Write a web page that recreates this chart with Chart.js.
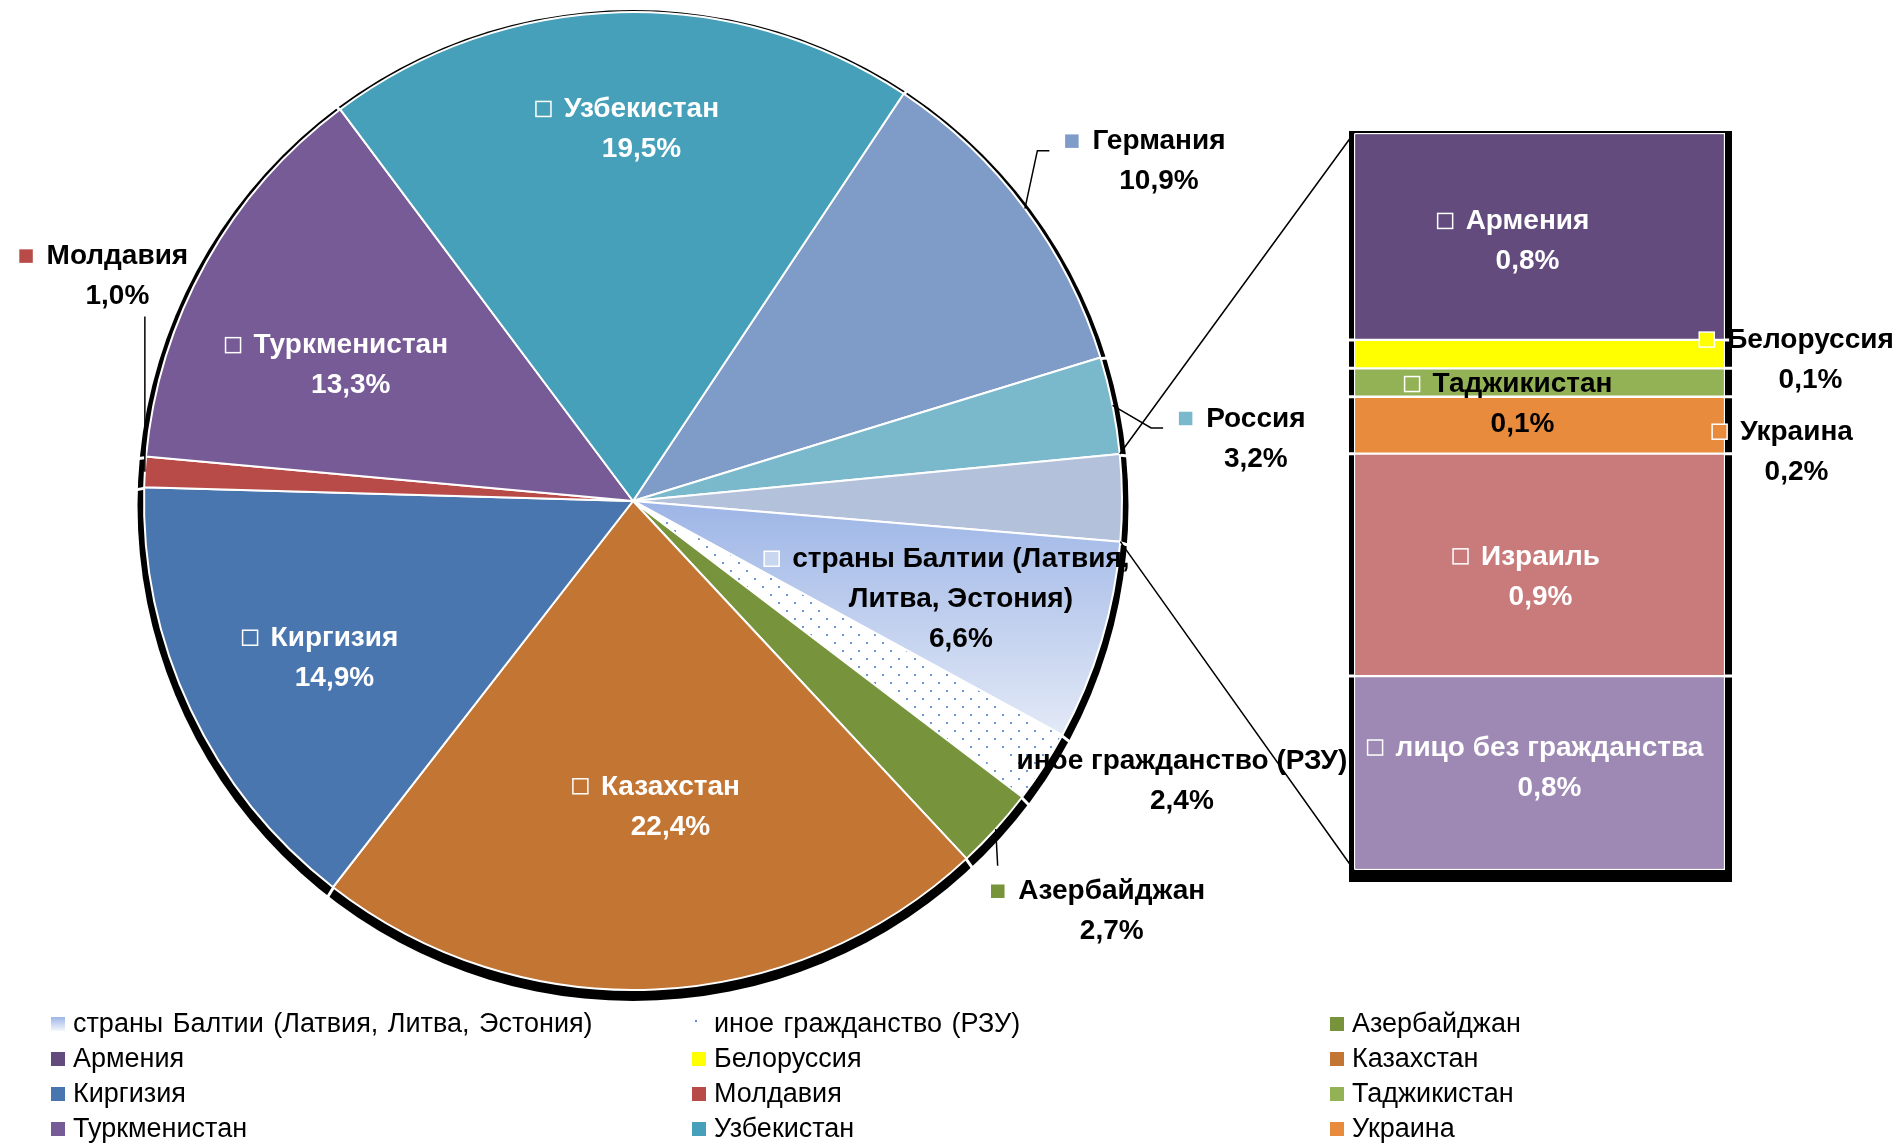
<!DOCTYPE html>
<html>
<head>
<meta charset="utf-8">
<script src="https://cdn.jsdelivr.net/npm/chart.js@4.4.1/dist/chart.umd.min.js"></script>
<style>
  body { margin: 0; background: #fff; width: 1896px; height: 1143px; overflow: hidden; position: relative; font-family: "Liberation Sans", Arial, sans-serif; }
  canvas { position: absolute; left: 0; top: 0; }
  .item { position: absolute; font-size: 27px; line-height: 30px; color: #000; white-space: nowrap; word-spacing: 2px; }
  .key { position: absolute; width: 14px; height: 14px; }
</style>
</head>
<body>
<canvas id="pie" width="1896" height="1143"></canvas>
<canvas id="bar" width="1896" height="1143"></canvas>
<div id="legend"></div>
<script>
// main pie, clockwise from the Germany slice
const pieNames = ["Германия", "Россия", "прочие", "страны Балтии (Латвия, Литва, Эстония)", "иное гражданство (РЗУ)", "Азербайджан", "Казахстан", "Киргизия", "Молдавия", "Туркменистан", "Узбекистан"];
const pieValues = [10.9, 3.2, 2.85, 6.6, 2.4, 2.7, 22.4, 14.9, 1.0, 13.3, 19.5];

// the "прочие" slice split into the bar, top to bottom
const barNames = ["Армения", "Белоруссия", "Таджикистан", "Украина", "Израиль", "лицо без гражданства"];
const barValues = [0.80, 0.11, 0.11, 0.22, 0.86, 0.75];

const legendOrder = ["страны Балтии (Латвия, Литва, Эстония)", "иное гражданство (РЗУ)", "Азербайджан", "Армения", "Белоруссия", "Казахстан", "Киргизия", "Молдавия", "Таджикистан", "Туркменистан", "Узбекистан", "Украина"];

// styles
const pieColors = ["#7F9BC7", "#7AB8CC", "#B3C1DB", "#A7BDE8", "#FFFFFF", "#77933C", "#C37534", "#4A76AF", "#B84B48", "#775B96", "#46A0B9"];
const pieFillType = ["solid", "solid", "solid", "gradient", "dots", "solid", "solid", "solid", "solid", "solid", "solid"];
const pieLabelColor = ["#000", "#000", null, "#000", "#000", "#000", "#fff", "#fff", "#000", "#fff", "#fff"];
const pieLabelDist = [1.28, 1.28, 0, 0.70, 1.26, 1.29, 0.63, 0.69, 1.15, 0.64, 0.76];
const pieLabelShift = [3.9, 5.6, 0, 0, -5.9, -1.5, -4.4, -2.5, 20.1, -3.6, 2.9];
const pieLeader = ["elbow", "elbow", null, null, null, "top", null, null, "bottom", null, null];

const barColors = ["#634C7D", "#FFFF00", "#93B256", "#E88B3D", "#C97B7B", "#9D89B3"];
const barLabelColor = ["#fff", "#000", "#000", "#000", "#fff", "#fff"];
const barLabelOffset = [[-12, 5], [271, 6], [-17, 22], [257, 27], [1, 12], [10, -5]];

const LABEL_FONT = "bold 28px 'Liberation Sans', Arial, sans-serif";

const fmt = (v) => v.toFixed(1).replace(".", ",") + "%";
const rad = (d) => (d * Math.PI) / 180;

const dotCanvas = document.createElement("canvas");
dotCanvas.width = 16;
dotCanvas.height = 16;
const dctx = dotCanvas.getContext("2d");
dctx.fillStyle = "#fff";
dctx.fillRect(0, 0, 16, 16);
dctx.fillStyle = "#6A98D8";
dctx.fillRect(2, 2, 2, 2);
dctx.fillRect(10, 10, 2, 2);

const pieFill = (c) => {
  const i = c.dataIndex;
  const area = c.chart.chartArea;
  if (pieFillType[i] === "dots") {
    return c.chart.ctx.createPattern(dotCanvas, "repeat");
  }
  if (pieFillType[i] === "gradient" && area) {
    const cy = (area.top + area.bottom) / 2;
    const r = Math.min(area.width, area.height) / 2;
    const g = c.chart.ctx.createLinearGradient(0, cy, 0, cy + r * 0.52);
    g.addColorStop(0, "#9DB5E6");
    g.addColorStop(1, "#E9EEF8");
    return g;
  }
  return pieColors[i];
};

const wrapText = (ctx, text, maxWidth) => {
  const words = text.split(" ");
  const lines = [];
  let line = "";
  words.forEach((w) => {
    const test = line ? line + " " + w : w;
    if (line && ctx.measureText(test).width > maxWidth) {
      lines.push(line);
      line = w;
    } else {
      line = test;
    }
  });
  lines.push(line);
  return lines;
};

const drawLabel = (ctx, x, y, lines, color, keyFill) => {
  const lh = 40;
  const y0 = y - ((lines.length - 1) * lh) / 2;
  ctx.save();
  ctx.font = LABEL_FONT;
  ctx.textAlign = "center";
  ctx.textBaseline = "middle";
  ctx.fillStyle = color;
  lines.forEach((l, k) => ctx.fillText(l, x, y0 + k * lh));
  const w = ctx.measureText(lines[0]).width;
  const kx = x - w / 2 - 13 - 15;
  ctx.fillStyle = keyFill;
  ctx.fillRect(kx, y0 - 8, 15, 15);
  ctx.strokeStyle = "#fff";
  ctx.lineWidth = 1.5;
  ctx.strokeRect(kx, y0 - 8, 15, 15);
  ctx.restore();
  return { keyLeft: kx, firstY: y0, top: y0 - 18, bottom: y0 + (lines.length - 1) * lh + 18 };
};

const pieShadow = {
  id: "pieShadow",
  beforeDatasetsDraw(chart) {
    const ctx = chart.ctx;
    const arcs = chart.getDatasetMeta(0).data;
    const a0 = arcs[0];
    ctx.save();
    ctx.fillStyle = "#000";
    ctx.beginPath();
    ctx.arc(a0.x, a0.y + 4.5, a0.outerRadius + 6.5, 0, Math.PI * 2);
    ctx.fill();
    ctx.strokeStyle = "#fff";
    ctx.lineWidth = 3;
    arcs.forEach((arc) => {
      const a = arc.startAngle;
      ctx.beginPath();
      ctx.moveTo(arc.x + Math.cos(a) * (arc.outerRadius - 5), arc.y + Math.sin(a) * (arc.outerRadius - 5));
      ctx.lineTo(arc.x + Math.cos(a) * (arc.outerRadius + 16), arc.y + 4.5 + Math.sin(a) * (arc.outerRadius + 16));
      ctx.stroke();
    });
    ctx.restore();
  },
};

const pieLabels = {
  id: "pieLabels",
  afterDatasetsDraw(chart) {
    const ctx = chart.ctx;
    chart.getDatasetMeta(0).data.forEach((arc, i) => {
      if (!pieLabelColor[i]) return;
      const mid = (arc.startAngle + arc.endAngle) / 2;
      const a = mid + rad(pieLabelShift[i]);
      const d = arc.outerRadius * pieLabelDist[i];
      const x = arc.x + Math.cos(a) * d;
      const y = arc.y + Math.sin(a) * d;
      ctx.font = LABEL_FONT;
      const nameLines = pieLabelDist[i] < 1 ? wrapText(ctx, pieNames[i], 370) : [pieNames[i]];
      const keyFill = pieFillType[i] === "solid" ? pieColors[i] : pieFillType[i] === "gradient" ? "#C9D6EF" : "#fff";
      const box = drawLabel(ctx, x, y, nameLines.concat([fmt(pieValues[i])]), pieLabelColor[i], keyFill);

      const ex = arc.x + Math.cos(mid) * arc.outerRadius;
      const ey = arc.y + Math.sin(mid) * arc.outerRadius;
      ctx.save();
      ctx.strokeStyle = "#000";
      ctx.lineWidth = 1.5;
      ctx.beginPath();
      if (pieLeader[i] === "elbow") {
        ctx.moveTo(ex, ey);
        ctx.lineTo(box.keyLeft - 27, box.firstY + 9);
        ctx.lineTo(box.keyLeft - 15, box.firstY + 9);
      } else if (pieLeader[i] === "top") {
        ctx.moveTo(ex, ey);
        ctx.lineTo(ex + 2, box.top - 8);
      } else if (pieLeader[i] === "bottom") {
        ctx.moveTo(ex, ey);
        ctx.lineTo(ex, box.bottom + 2);
      }
      ctx.stroke();
      ctx.restore();
    });
  },
};

const pieChart = new Chart(document.getElementById("pie"), {
  type: "pie",
  data: {
    labels: pieNames,
    datasets: [{ data: pieValues, backgroundColor: pieFill, borderColor: "#fff", borderWidth: 2 }],
  },
  options: {
    responsive: false,
    animation: false,
    rotation: 33.6,
    layout: { padding: { left: 143, right: 773, top: 11, bottom: 152 } },
    plugins: { legend: { display: false }, tooltip: { enabled: false } },
  },
  plugins: [pieShadow, pieLabels],
});

const barTotal = barValues.reduce((s, v) => s + v, 0);

const barEdges = (chart) => {
  const top = chart.getDatasetMeta(chart.data.datasets.length - 1).data[0];
  const bottom = chart.getDatasetMeta(0).data[0];
  return { left: top.x - top.width / 2, right: top.x + top.width / 2, top: top.y, bottom: bottom.base };
};

const barShadow = {
  id: "barShadow",
  beforeDatasetsDraw(chart) {
    const ctx = chart.ctx;
    const e = barEdges(chart);
    ctx.save();
    ctx.fillStyle = "#000";
    ctx.fillRect(e.left - 5, e.top - 2, e.right - e.left + 12, e.bottom - e.top + 14);
    ctx.strokeStyle = "#fff";
    ctx.lineWidth = 3;
    chart.data.datasets.forEach((ds, di) => {
      if (di === 0) return;
      const el = chart.getDatasetMeta(di).data[0];
      ctx.beginPath();
      ctx.moveTo(e.left - 10, el.base);
      ctx.lineTo(e.right + 12, el.base);
      ctx.stroke();
    });
    ctx.restore();
  },
};

const barLabels = {
  id: "barLabels",
  afterDatasetsDraw(chart) {
    const ctx = chart.ctx;
    chart.data.datasets.forEach((ds, di) => {
      const i = barNames.indexOf(ds.label);
      const el = chart.getDatasetMeta(di).data[0];
      const x = el.x + barLabelOffset[i][0];
      const y = (el.y + el.base) / 2 + barLabelOffset[i][1];
      drawLabel(ctx, x, y, [barNames[i], fmt(barValues[i])], barLabelColor[i], barColors[i]);
    });
  },
};

const connector = {
  id: "connector",
  afterDraw(chart) {
    const ctx = chart.ctx;
    const arc = pieChart.getDatasetMeta(0).data[pieNames.indexOf("прочие")];
    const e = barEdges(chart);
    ctx.save();
    ctx.strokeStyle = "#000";
    ctx.lineWidth = 1.5;
    ctx.beginPath();
    ctx.moveTo(arc.x + Math.cos(arc.startAngle) * arc.outerRadius, arc.y + Math.sin(arc.startAngle) * arc.outerRadius);
    ctx.lineTo(e.left, e.top);
    ctx.moveTo(arc.x + Math.cos(arc.endAngle) * arc.outerRadius, arc.y + Math.sin(arc.endAngle) * arc.outerRadius);
    ctx.lineTo(e.left, e.bottom);
    ctx.stroke();
    ctx.restore();
  },
};

const barChart = new Chart(document.getElementById("bar"), {
  type: "bar",
  data: {
    labels: [""],
    datasets: barNames
      .map((n, i) => ({
        label: n,
        data: [barValues[i]],
        backgroundColor: barColors[i],
        borderColor: "#fff",
        borderWidth: 1.5,
        borderSkipped: false,
        barPercentage: 1,
        categoryPercentage: 1,
      }))
      .reverse(),
  },
  options: {
    responsive: false,
    animation: false,
    layout: { padding: { left: 1354, right: 171, top: 133, bottom: 273 } },
    scales: {
      x: { display: false, stacked: true },
      y: { display: false, stacked: true, min: 0, max: barTotal },
    },
    plugins: { legend: { display: false }, tooltip: { enabled: false } },
  },
  plugins: [barShadow, barLabels, connector],
});

// legend, 3 columns
const legendCols = [51, 692, 1330];
const legendRows = [1023, 1058, 1093, 1128];
const legend = document.getElementById("legend");
legendOrder.forEach((name, k) => {
  const col = k % 3;
  const row = Math.floor(k / 3);
  let bg;
  const pi = pieNames.indexOf(name);
  if (pi >= 0) {
    if (pieFillType[pi] === "gradient") bg = "linear-gradient(#9DB5E6, #F4F7FC)";
    else if (pieFillType[pi] === "dots") bg = "radial-gradient(circle at 4px 4px, #5B8FD6 1px, #fff 1.6px)";
    else bg = pieColors[pi];
  } else {
    bg = barColors[barNames.indexOf(name)];
  }
  const key = document.createElement("div");
  key.className = "key";
  key.style.left = legendCols[col] + "px";
  key.style.top = legendRows[row] - 6 + "px";
  key.style.background = bg;
  legend.appendChild(key);
  const item = document.createElement("div");
  item.className = "item";
  item.style.left = legendCols[col] + 22 + "px";
  item.style.top = legendRows[row] - 15 + "px";
  item.textContent = name;
  legend.appendChild(item);
});
</script>
</body>
</html>
